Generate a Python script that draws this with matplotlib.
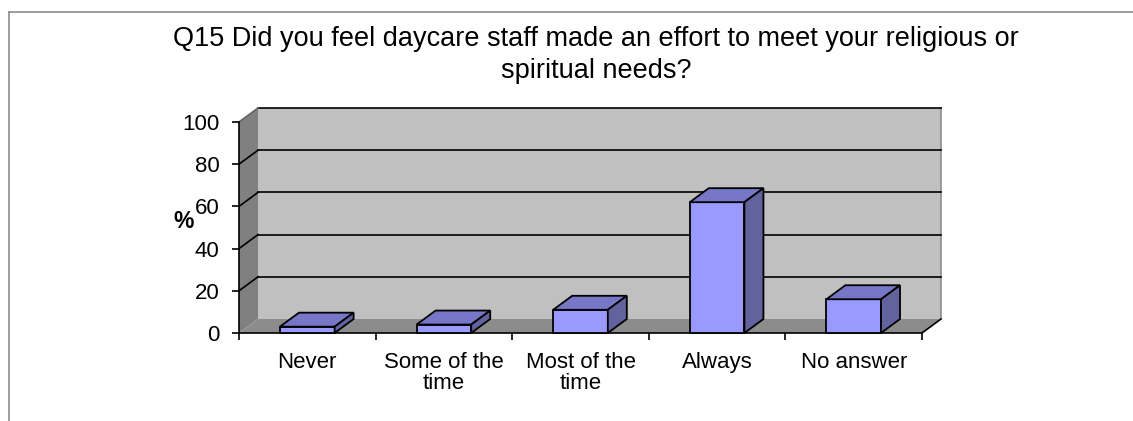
import numpy as np
import matplotlib
matplotlib.use("Agg")
import matplotlib.pyplot as plt
from matplotlib.patches import Polygon
from matplotlib.lines import Line2D

plt.rcParams['font.family'] = ['Liberation Sans', 'DejaVu Sans']

title = "Q15 Did you feel daycare staff made an effort to meet your religious or\nspiritual needs?"
categories = ["Never", "Some of the\ntime", "Most of the\ntime", "Always", "No answer"]
values = [3, 4, 11, 62, 16]
yticks = [0, 20, 40, 60, 80, 100]

W, H = 1133, 421
fig = plt.figure(figsize=(W / 100, H / 100), dpi=100)

# chart area border (only left and top visible)
fig.add_artist(Line2D([8.5 / W, 8.5 / W], [0, 1 - 11.5 / H], color="#8c8c8c", lw=1.2))
fig.add_artist(Line2D([8.5 / W, 1], [1 - 11.5 / H, 1 - 11.5 / H], color="#8c8c8c", lw=1.2))

# front plane of the plot
x0, x1, ytop, ybot = 239, 922, 122, 333
ax = fig.add_axes([x0 / W, (H - ybot) / H, (x1 - x0) / W, (ybot - ytop) / H])
n = len(categories)
ax.set_xlim(-0.5, n - 0.5)
ax.set_ylim(0, 100)
ax.patch.set_visible(False)

# depth offset in data units
dx = 19 / ((x1 - x0) / n)
dy = 14 / ((ybot - ytop) / 100)
xl, xr = -0.5, n - 0.5

# back wall, side wall, floor
ax.add_patch(Polygon([(xl + dx, dy), (xr + dx, dy), (xr + dx, 100 + dy), (xl + dx, 100 + dy)],
                     closed=True, facecolor="#c0c0c0", edgecolor="none", clip_on=False, zorder=0))
ax.add_patch(Polygon([(xl, 0), (xl, 100), (xl + dx, 100 + dy), (xl + dx, dy)],
                     closed=True, facecolor="#808080", edgecolor="none", clip_on=False, zorder=0))
ax.add_patch(Polygon([(xl, 0), (xr, 0), (xr + dx, dy), (xl + dx, dy)],
                     closed=True, facecolor="#8c8c8c", edgecolor="none", clip_on=False, zorder=0))
ax.plot([xr + dx, xr + dx], [dy, 100 + dy], color="#8c8c8c", lw=1.2, clip_on=False, zorder=1)
ax.plot([xr, xr + dx], [0, dy], color="black", lw=1.2, clip_on=False, zorder=1)

# gridlines on the walls
for v in yticks[1:]:
    ax.plot([xl + dx, xr + dx], [v + dy, v + dy], color="black", lw=1.2, clip_on=False, zorder=1)
    ax.plot([xl, xl + dx], [v, v + dy], color="black" if v < 100 else "#666666", lw=1.2,
            clip_on=False, zorder=1)

# bars
xs = np.arange(n)
bw = 0.4
ax.bar(xs, values, width=bw, color="#9999ff", edgecolor="black", linewidth=1.3, zorder=3, clip_on=False)
for x, v in zip(xs, values):
    l, r = x - bw / 2, x + bw / 2
    ax.add_patch(Polygon([(l, v), (r, v), (r + dx, v + dy), (l + dx, v + dy)], closed=True,
                         facecolor="#7777c8", edgecolor="black", lw=1.3, clip_on=False, zorder=3))
    ax.add_patch(Polygon([(r, 0), (r + dx, dy), (r + dx, v + dy), (r, v)], closed=True,
                         facecolor="#62629e", edgecolor="black", lw=1.3, clip_on=False, zorder=3))

# axes
for s in ["top", "right"]:
    ax.spines[s].set_visible(False)
for s in ["left", "bottom"]:
    ax.spines[s].set_linewidth(1.2)
    ax.spines[s].set_zorder(2)
ax.set_yticks(yticks)
ax.tick_params(axis="y", length=5, width=1.2, pad=9, labelsize=16)
ax.set_xticks(np.arange(-0.5, n, 1.0))
ax.set_xticklabels([])
ax.tick_params(axis="x", which="major", length=5, width=1.2)
ax.set_xticks(xs, minor=True)
ax.set_xticklabels(categories, minor=True, fontsize=16, linespacing=0.95)
ax.tick_params(axis="x", which="minor", length=0, pad=14)

fig.text(184 / W, 1 - 222 / H, "%", fontsize=16.5, fontweight="bold", ha="center", va="center")
fig.text(596 / W, 1 - 55 / H, title, fontsize=19.5, ha="center", va="center", linespacing=1.3)

fig.savefig("out.png", dpi=100)
